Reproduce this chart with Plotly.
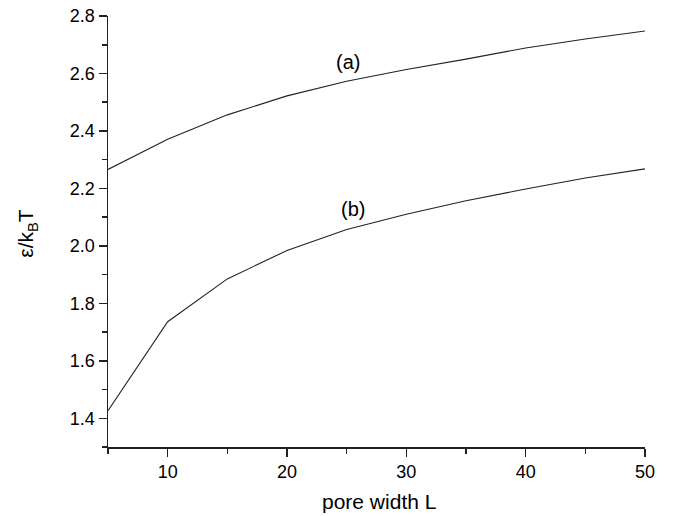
import plotly.graph_objects as go

L = [5, 10, 15, 20, 25, 30, 35, 40, 45, 50]
eps_a = [2.266, 2.371, 2.456, 2.522, 2.573, 2.614, 2.650, 2.689, 2.720, 2.748]
eps_b = [1.426, 1.736, 1.885, 1.984, 2.057, 2.110, 2.157, 2.198, 2.236, 2.268]
labels = ["(a)", "(b)"]
label_x = [25.1, 25.5]
label_y = [2.639, 2.128]

FONT = "Liberation Sans, Arial, sans-serif"

fig = go.Figure()
for ys in (eps_a, eps_b):
    fig.add_trace(go.Scatter(x=L, y=ys, mode="lines",
                             line=dict(color="#222222", width=1.1),
                             showlegend=False, hoverinfo="skip"))

for t, x, y in zip(labels, label_x, label_y):
    fig.add_annotation(x=x, y=y, text=t, showarrow=False,
                       font=dict(family=FONT, size=20, color="black"))

# axis titles as annotations for exact placement
fig.add_annotation(xref="paper", yref="paper", x=0.504, y=-0.127,
                   text="pore width L", showarrow=False,
                   xanchor="center", yanchor="middle",
                   font=dict(family=FONT, size=21, color="black"))
fig.add_annotation(xref="paper", yref="paper", x=-0.151, y=0.497,
                   text="ε/k<sub>B</sub>T", showarrow=False, textangle=-90,
                   xanchor="center", yanchor="middle",
                   font=dict(family=FONT, size=21, color="black"))

fig.update_layout(
    width=675, height=516,
    margin=dict(l=108, r=30, t=16, b=69),
    paper_bgcolor="white", plot_bgcolor="white",
    font=dict(family=FONT, size=18, color="black"),
)
fig.update_xaxes(
    range=[5, 50], tickvals=[10, 20, 30, 40, 50],
    showline=True, linecolor="#222222", linewidth=1.5,
    ticks="outside", ticklen=8, tickwidth=1.5, tickcolor="#222222",
    minor=dict(tickvals=[5, 15, 25, 35, 45], ticks="outside", ticklen=5,
               tickwidth=1.5, tickcolor="#222222"),
    showgrid=False, zeroline=False, automargin=False,
    tickfont=dict(size=18), ticklabeloverflow="allow",
)
fig.update_yaxes(
    range=[1.3, 2.8001], tickvals=[1.4, 1.6, 1.8, 2.0, 2.2, 2.4, 2.6, 2.8],
    ticktext=["1.4", "1.6", "1.8", "2.0", "2.2", "2.4", "2.6", "2.8"],
    showline=True, linecolor="#222222", linewidth=1.5,
    ticks="outside", ticklen=8, tickwidth=1.5, tickcolor="#222222",
    minor=dict(tickvals=[1.3, 1.5, 1.7, 1.9, 2.1, 2.3, 2.5, 2.7],
               ticks="outside", ticklen=5, tickwidth=1.5, tickcolor="#222222"),
    showgrid=False, zeroline=False, automargin=False,
    tickfont=dict(size=18), ticklabeloverflow="allow",
)

# remove the default page margin so the figure sits at the window's corner
fig.write_html(
    "out.html",
    config={"displayModeBar": False, "staticPlot": True},
    post_script="document.body.style.margin='0';document.body.style.overflow='hidden';",
)
